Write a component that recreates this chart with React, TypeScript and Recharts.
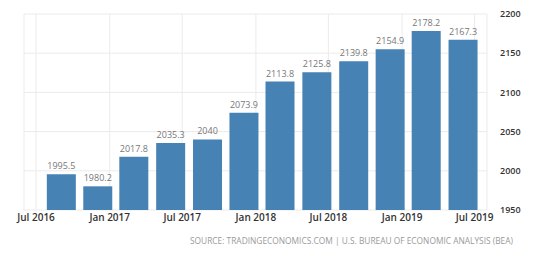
import React from "react";
import { BarChart, Bar, XAxis, YAxis, CartesianGrid, LabelList } from "recharts";

const quarterDates = [
  "2016-09-01", "2016-12-01", "2017-03-01", "2017-06-01",
  "2017-09-01", "2017-12-01", "2018-03-01", "2018-06-01",
  "2018-09-01", "2018-12-01", "2019-03-01", "2019-06-01",
];
const values = [1995.5, 1980.2, 2017.8, 2035.3, 2040, 2073.9, 2113.8, 2125.8, 2139.8, 2154.9, 2178.2, 2167.3];
const xTickDates = ["2016-07-01", "2017-01-01", "2017-07-01", "2018-01-01", "2018-07-01", "2019-01-01", "2019-07-01"];
const xDomainDates = ["2016-06-01", "2019-08-01"];
const yTicks = [1950, 2000, 2050, 2100, 2150, 2200];
const monthNames = ["Jan", "Feb", "Mar", "Apr", "May", "Jun", "Jul", "Aug", "Sep", "Oct", "Nov", "Dec"];
const sourceText = "SOURCE: TRADINGECONOMICS.COM | U.S. BUREAU OF ECONOMIC ANALYSIS (BEA)";

const ts = (s: string) => Date.parse(s + "T00:00:00Z");
const data = quarterDates.map((d, i) => ({ t: ts(d), value: values[i] }));
const fmtDate = (v: number) => {
  const d = new Date(v);
  return `${monthNames[d.getUTCMonth()]} ${d.getUTCFullYear()}`;
};

export default function App() {
  return (
    <div style={{ position: "relative", width: 550, height: 256 }}>
      <style>{"body{margin:0;background:#fff}"}</style>
      <BarChart
        width={550}
        height={256}
        data={data}
        margin={{ top: 14, right: 8, left: 24, bottom: 21 }}
      >
        <CartesianGrid stroke="#ebebeb" strokeWidth={1} />
        <XAxis
          dataKey="t"
          type="number"
          scale="time"
          domain={xDomainDates.map(ts)}
          ticks={xTickDates.map(ts)}
          tickFormatter={fmtDate}
          axisLine={false}
          tickLine={false}
          tickSize={4}
          tickMargin={0}
          height={25}
          interval={0}
          tick={{ fill: "#333", fontSize: 10, fontFamily: "Open Sans", fontWeight: 600 }}
        />
        <YAxis
          orientation="right"
          domain={[1950, 2200]}
          ticks={yTicks}
          axisLine={false}
          tickLine={false}
          tickMargin={7}
          width={55}
          interval={0}
          tick={{ fill: "#333", fontSize: 9, fontFamily: "Open Sans", fontWeight: 600, textAnchor: "start" }}
        />
        <Bar dataKey="value" fill="#4682b4" barSize={29} isAnimationActive={false}>
          <LabelList
            dataKey="value"
            position="top"
            offset={5}
            style={{ fill: "#777", fontSize: 9, fontFamily: "Open Sans" }}
          />
        </Bar>
      </BarChart>
      <svg width={550} height={256} style={{ position: "absolute", left: 0, top: 0, pointerEvents: "none" }}>
        <text
          x={513}
          y={244}
          textAnchor="end"
          fill="#9a9a9a"
          fontSize={8.5}
          fontFamily="Open Sans"
          textLength={323}
          lengthAdjust="spacingAndGlyphs"
        >
          {sourceText}
        </text>
      </svg>
    </div>
  );
}
